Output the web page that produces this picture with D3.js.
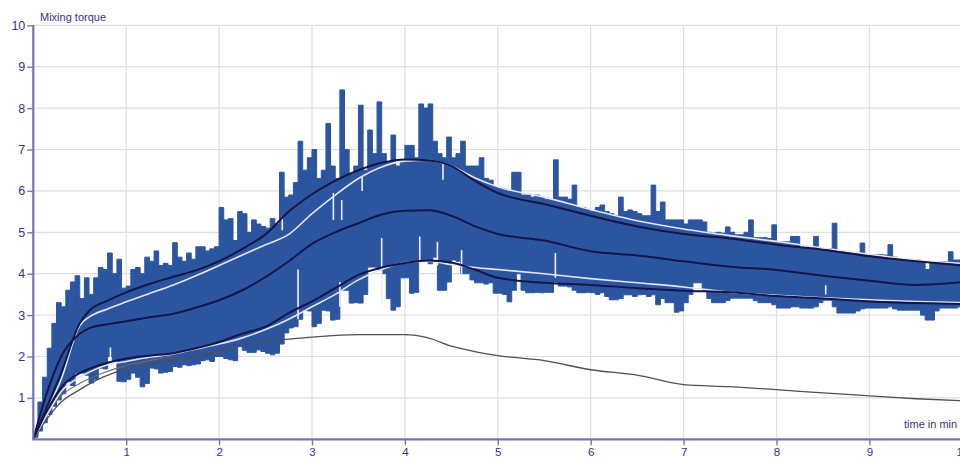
<!DOCTYPE html>
<html>
<head>
<meta charset="utf-8">
<script src="https://cdn.jsdelivr.net/npm/d3@7"></script>
<style>
  html, body { margin: 0; padding: 0; background: #ffffff; }
  svg { display: block; font-family: "Liberation Sans", Arial, sans-serif; }
</style>
</head>
<body>
<svg id="chart" width="960" height="459"></svg>
<script>
// ---------------- DATA ----------------
const yTicks = [1, 2, 3, 4, 5, 6, 7, 8, 9, 10];
const xTicks = [1, 2, 3, 4, 5, 6, 7, 8, 9, 10];
const xTickLabels = ["1", "2", "3", "4", "5", "6", "7", "8", "9", "10"];
const yTitle = "Mixing torque";
const xTitle = "time in min";

// raw torque band, sampled every 0.05 min (0 .. 10 min)
const bandStep = 0.05;
const bandUpper = [
  0.1, 0.9, 1.5, 2.2, 2.8, 3.3, 3.2, 3.6, 3.8, 3.95,
  3.4, 3.9, 3.5, 3.9, 4.15, 4.1, 4.5, 4.0, 4.35, 3.65,
  3.7, 4.1, 4.15, 4.0, 4.4, 4.3, 4.55, 4.2, 4.25, 4.2,
  4.75, 4.4, 4.3, 4.5, 4.35, 4.65, 4.65, 4.55, 4.6, 4.65,
  5.6, 5.3, 5.33, 4.8, 5.5, 5.45, 5.0, 5.3, 5.2, 5.14,
  5.1, 5.33, 5.2, 6.45, 5.85, 5.9, 6.2, 7.2, 6.5, 6.8,
  7.0, 6.3, 6.5, 7.63, 6.6, 6.3, 8.44, 7.0, 6.4, 6.6,
  8.07, 6.5, 7.47, 6.9, 8.15, 6.9, 6.7, 7.35, 6.6, 6.7,
  7.1, 7.1, 6.8, 8.1, 8.0, 8.1, 7.2, 6.9, 6.8, 7.3,
  6.8, 6.9, 7.2, 6.6, 6.6, 6.6, 6.8, 6.3, 6.26, 6.1,
  6.07, 6.05, 6.0, 6.45, 6.45, 5.9, 5.9, 5.85, 5.9, 5.85,
  5.8, 5.8, 6.75, 5.85, 5.85, 5.8, 6.14, 5.6, 5.6, 5.55,
  5.5, 5.6, 5.66, 5.5, 5.45, 5.4, 5.85, 5.5, 5.54, 5.5,
  5.45, 5.4, 5.4, 6.14, 5.5, 5.73, 5.3, 5.3, 5.3, 5.3,
  5.2, 5.3, 5.3, 5.3, 5.25, 5.0, 4.98, 5.0, 4.98, 5.13,
  5.0, 4.94, 4.94, 5.0, 5.3, 4.87, 4.87, 4.87, 4.85, 5.18,
  4.77, 4.77, 4.77, 4.9, 4.9, 4.62, 4.62, 4.62, 4.9, 4.57,
  4.57, 4.6, 5.22, 4.53, 4.53, 4.53, 4.5, 4.5, 4.74, 4.46,
  4.46, 4.46, 4.46, 4.45, 4.7, 4.4, 4.33, 4.33, 4.33, 4.3,
  4.33, 4.3, 4.1, 4.29, 4.29, 4.29, 4.29, 4.53, 4.33, 4.33,
  4.33
];
const bandLower = [
  0.05, 0.2, 0.4, 0.6, 0.8, 0.95, 1.1, 1.39, 1.3, 1.6,
  1.6, 1.55, 1.36, 1.45, 1.72, 1.7, 2.0, 1.9, 1.4, 1.39,
  1.45, 1.6, 1.5, 1.27, 1.35, 1.72, 1.7, 1.6, 1.62, 1.64,
  1.76, 1.74, 1.8, 1.78, 1.8, 1.82, 1.9, 1.92, 1.88, 2.0,
  2.0, 1.95, 1.92, 1.9, 2.24, 2.15, 2.1, 2.1, 2.16, 2.12,
  2.08, 2.04, 2.08, 2.3, 2.57, 2.69, 2.72, 2.9, 3.12, 3.1,
  2.72, 2.8, 3.12, 3.1, 2.88, 2.9, 3.6, 3.6, 3.29, 3.3,
  3.29, 3.5, 4.16, 4.16, 4.1, 4.0, 3.4, 3.12, 3.2, 3.9,
  3.9, 3.53, 3.55, 4.3, 4.3, 4.24, 4.4, 3.6, 3.6, 3.8,
  4.33, 4.3, 4.0, 4.0, 3.85, 3.78, 3.78, 3.75, 3.78, 3.53,
  3.53, 3.5, 3.32, 3.6, 4.0, 3.6, 3.54, 3.54, 3.55, 3.54,
  3.55, 3.55, 3.8, 3.7, 3.7, 3.68, 3.6, 3.54, 3.54, 3.55,
  3.54, 3.5, 3.54, 3.45, 3.37, 3.37, 3.4, 3.49, 3.49, 3.45,
  3.49, 3.5, 3.45, 3.49, 3.25, 3.4, 3.3, 3.3, 3.07, 3.1,
  3.3, 3.5, 3.78, 3.78, 3.6, 3.4, 3.3, 3.3, 3.3, 3.35,
  3.41, 3.41, 3.41, 3.41, 3.41, 3.35, 3.3, 3.3, 3.3, 3.25,
  3.17, 3.17, 3.17, 3.2, 3.2, 3.17, 3.17, 3.17, 3.2, 3.3,
  3.36, 3.36, 3.2, 3.05, 3.05, 3.05, 3.05, 3.1, 3.15, 3.17,
  3.17, 3.17, 3.17, 3.17, 3.2, 3.15, 3.12, 3.12, 3.12, 3.12,
  3.12, 3.0, 2.88, 2.88, 3.1, 3.17, 3.17, 3.17, 3.17, 3.2,
  3.2
];

// white gaps inside the band: [time, from, to]
const gapTimes = [0.83, 2.68, 2.85, 3.23, 3.30, 3.32, 3.54, 3.75, 4.16, 4.35, 4.41, 4.61, 5.62, 8.53];
const gapFrom  = [1.98, 5.05, 2.90, 5.30, 3.20, 5.30, 6.00, 3.30, 3.60, 4.20, 6.27, 4.00, 3.90, 3.50];
const gapTo    = [2.22, 5.37, 4.10, 5.95, 3.80, 5.78, 6.35, 4.86, 4.90, 4.77, 6.67, 4.57, 4.50, 3.72];

// smooth reference curves
const curveTimes  = [0, 0.15, 0.3, 0.5, 0.6, 0.8, 1.0, 1.25, 1.5, 1.75, 2.0, 2.25, 2.5, 2.75, 3.0, 3.25, 3.5, 3.75, 4.0, 4.25, 4.5, 4.75, 5.0, 5.5, 6.0, 6.5, 7.0, 7.5, 8.0, 8.5, 9.0, 9.5, 10];
const medianLine  = [0, 1.15, 2.0, 2.55, 2.68, 2.78, 2.85, 2.95, 3.03, 3.18, 3.36, 3.6, 3.92, 4.3, 4.72, 5.0, 5.22, 5.43, 5.52, 5.53, 5.4, 5.15, 4.96, 4.8, 4.54, 4.44, 4.3, 4.17, 4.09, 3.95, 3.83, 3.73, 3.8];
const upperDark   = [0, 0.8, 1.6, 2.8, 3.1, 3.35, 3.55, 3.75, 3.92, 4.08, 4.3, 4.6, 4.95, 5.5, 5.92, 6.25, 6.5, 6.68, 6.76, 6.74, 6.6, 6.25, 5.95, 5.68, 5.4, 5.14, 4.96, 4.85, 4.7, 4.58, 4.42, 4.3, 4.2];
const upperWhite  = [0, 0.7, 1.45, 2.75, 2.95, 3.15, 3.32, 3.52, 3.72, 3.95, 4.2, 4.45, 4.7, 4.95, 5.45, 5.9, 6.3, 6.58, 6.72, 6.74, 6.6, 6.32, 6.1, 5.85, 5.55, 5.28, 5.08, 4.92, 4.78, 4.62, 4.47, 4.33, 4.25];
const lowerDark   = [0, 0.7, 1.25, 1.6, 1.7, 1.85, 1.95, 2.02, 2.08, 2.2, 2.35, 2.55, 2.72, 3.05, 3.33, 3.65, 3.97, 4.15, 4.26, 4.32, 4.27, 4.1, 3.9, 3.78, 3.73, 3.65, 3.59, 3.55, 3.46, 3.4, 3.33, 3.29, 3.27];
const lowerWhite  = [0, 0.6, 1.15, 1.5, 1.62, 1.8, 1.88, 1.98, 2.06, 2.18, 2.3, 2.45, 2.65, 2.9, 3.2, 3.5, 3.85, 4.1, 4.27, 4.3, 4.22, 4.15, 4.1, 4.0, 3.88, 3.78, 3.68, 3.55, 3.48, 3.42, 3.37, 3.33, 3.3];
const minTimes    = [0, 0.15, 0.3, 0.5, 0.75, 1.0, 1.25, 1.5, 1.75, 2.0, 2.25, 2.5, 2.75, 3.0, 3.5, 4.0, 4.25, 4.5, 4.75, 5.0, 5.5, 6.0, 6.5, 7.0, 7.5, 8.0, 8.5, 9.0, 9.5, 10];
const minLine     = [0, 0.5, 0.9, 1.2, 1.5, 1.7, 1.82, 1.9, 2.02, 2.12, 2.28, 2.37, 2.42, 2.47, 2.53, 2.53, 2.45, 2.25, 2.12, 2.02, 1.9, 1.68, 1.55, 1.32, 1.27, 1.2, 1.12, 1.05, 0.98, 0.93];
const auxTimes    = [0, 0.15, 0.3, 0.5, 0.75, 1.0, 1.25, 1.5];
const auxLine     = [0, 0.65, 1.05, 1.35, 1.6, 1.78, 1.9, 2.02];

// ---------------- CHART ----------------
const svg = d3.select("#chart");
const x = d3.scaleLinear().domain([0, 10]).range([33.3, 962.3]);
const y = d3.scaleLinear().domain([0, 10]).range([439.3, 25.3]);

const axisColor = "#7474b4";
const textColor = "#33338a";
const gridColor = "#dedede";

// grid
const grid = svg.append("g");
grid.selectAll("line.h").data(yTicks).join("line")
  .attr("x1", x(0)).attr("x2", 960)
  .attr("y1", d => y(d)).attr("y2", d => y(d))
  .attr("stroke", gridColor).attr("stroke-width", 1.2);
grid.selectAll("line.v").data(xTicks).join("line")
  .attr("x1", d => x(d)).attr("x2", d => x(d))
  .attr("y1", y(10)).attr("y2", y(0))
  .attr("stroke", gridColor).attr("stroke-width", 1.2);

// clip region
svg.append("clipPath").attr("id", "plotclip")
  .append("rect").attr("x", x(0)).attr("y", 0).attr("width", 960).attr("height", y(0));

const plot = svg.append("g").attr("clip-path", "url(#plotclip)");

// band
const bandData = bandUpper.map((u, i) => ({ t: i * bandStep, u: u, l: bandLower[i] }));
const band = d3.area()
  .x(d => x(d.t))
  .y0(d => y(d.l))
  .y1(d => y(d.u))
  .curve(d3.curveStepAfter);
plot.append("path").datum(bandData)
  .attr("d", band)
  .attr("fill", "#2c55a0")
  .attr("stroke", "#2c55a0")
  .attr("stroke-width", 1);

// white gaps
plot.selectAll("line.gap").data(gapTimes).join("line")
  .attr("x1", d => x(d)).attr("x2", d => x(d))
  .attr("y1", (d, i) => y(gapFrom[i])).attr("y2", (d, i) => y(gapTo[i]))
  .attr("stroke", "#eef0f8").attr("stroke-width", 1.6);

// curves
function drawCurve(times, vals, color, width) {
  const line = d3.line().x((d, i) => x(times[i])).y(d => y(d)).curve(d3.curveMonotoneX);
  plot.append("path").datum(vals)
    .attr("d", line)
    .attr("fill", "none")
    .attr("stroke", color)
    .attr("stroke-width", width)
    .attr("stroke-linejoin", "round");
}
drawCurve(minTimes, minLine, "#505050", 1.3);
drawCurve(auxTimes, auxLine, "#6a6a6a", 1.1);
drawCurve(curveTimes, lowerWhite, "#e4e6ee", 1.6);
drawCurve(curveTimes, upperWhite, "#e4e6ee", 1.6);
drawCurve(curveTimes, lowerDark, "#15154a", 2);
drawCurve(curveTimes, upperDark, "#15154a", 2);
drawCurve(curveTimes, medianLine, "#15154a", 2);

// axes
const yAxis = d3.axisLeft(y).tickValues(yTicks).tickSize(6).tickPadding(2).tickFormat(d3.format("d"));
const gy = svg.append("g").attr("transform", `translate(${x(0)},0)`).call(yAxis);
gy.select(".domain").attr("stroke", axisColor).attr("stroke-width", 2.2).attr("d", `M0,${y(0)}V${y(10)}`);
gy.selectAll(".tick line").attr("stroke", axisColor).attr("stroke-width", 1.4);
gy.selectAll(".tick text").attr("fill", textColor).style("font-size", "12.5px")
  .style("font-family", "'Liberation Sans', Arial, sans-serif");

const xAxis = d3.axisBottom(x).tickValues(xTicks).tickSize(6).tickPadding(3)
  .tickFormat((d, i) => xTickLabels[i]);
const gx = svg.append("g").attr("transform", `translate(0,${y(0)})`).call(xAxis);
gx.select(".domain").attr("stroke", axisColor).attr("stroke-width", 2.2).attr("d", `M${x(0) - 1},0H960`);
gx.selectAll(".tick line").attr("stroke", axisColor).attr("stroke-width", 1.4);
gx.selectAll(".tick text").attr("fill", textColor).style("font-size", "11.5px")
  .style("font-family", "'Liberation Sans', Arial, sans-serif");

// titles
svg.append("text").attr("x", 40).attr("y", 21)
  .attr("fill", textColor).style("font-size", "11px").text(yTitle);
svg.append("text").attr("x", 904).attr("y", 428)
  .attr("fill", textColor).style("font-size", "11px").text(xTitle);
</script>
</body>
</html>
